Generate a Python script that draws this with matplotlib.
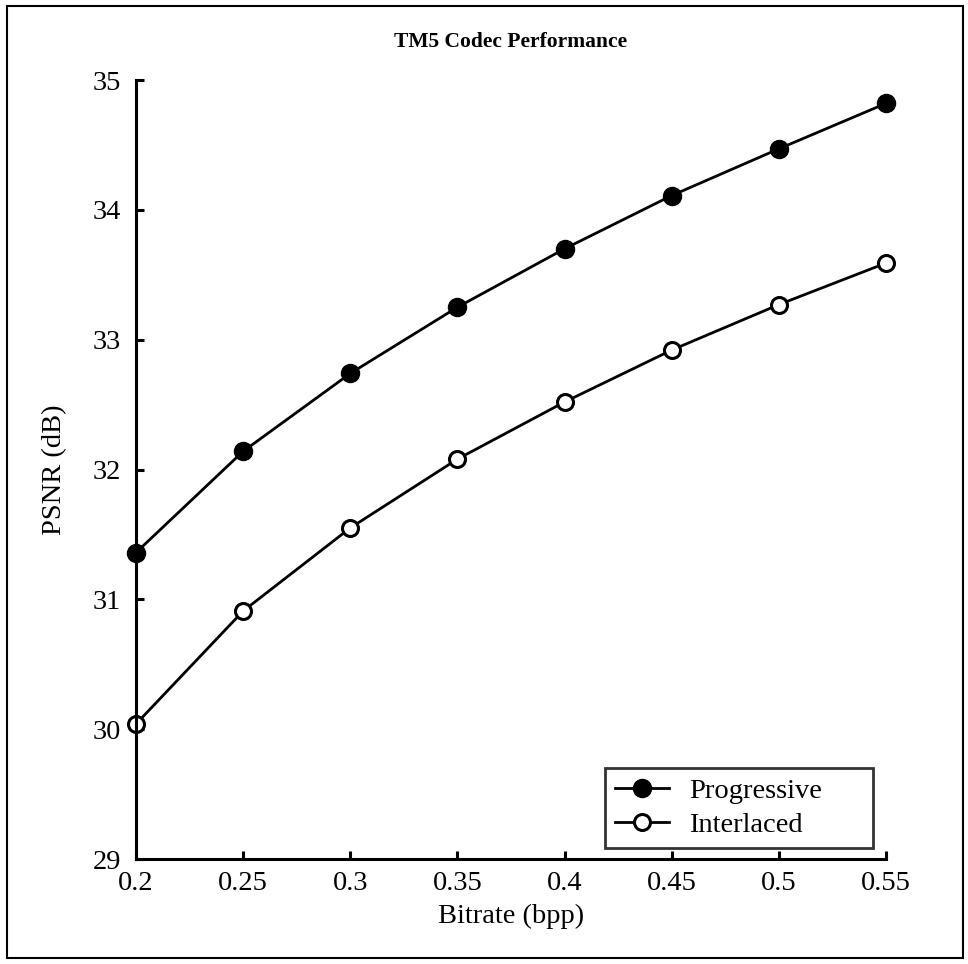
import matplotlib
matplotlib.use('Agg')
import matplotlib.pyplot as plt
from matplotlib.patches import Rectangle

# Bitrate (bpp) vs PSNR (dB)
bitrate = [0.2, 0.25, 0.3, 0.35, 0.4, 0.45, 0.5, 0.55]
progressive = [31.36, 32.14, 32.74, 33.25, 33.70, 34.11, 34.47, 34.82]
interlaced = [30.04, 30.91, 31.55, 32.08, 32.52, 32.92, 33.27, 33.59]

xtick_labels = ['0.2', '0.25', '0.3', '0.35', '0.4', '0.45', '0.5', '0.55']
yticks = [29, 30, 31, 32, 33, 34, 35]

plt.rcParams['font.family'] = ['Liberation Serif', 'DejaVu Serif']

fig = plt.figure(figsize=(9.68, 9.64), dpi=100)
ax = fig.add_axes([136 / 968, 1 - 859 / 964, 750 / 968, 779 / 964])

ax.plot(bitrate, progressive, color='black', lw=2, marker='o', ms=12.5,
        mfc='black', mec='black', mew=1.5, clip_on=False, label='Progressive')
ax.plot(bitrate, interlaced, color='black', lw=2, marker='o', ms=11.5,
        mfc='white', mec='black', mew=2.2, clip_on=False, label='Interlaced')

ax.set_xlim(0.2, 0.55)
ax.set_ylim(29, 35)
ax.set_xticks(bitrate)
ax.set_xticklabels(xtick_labels)
ax.set_yticks(yticks)

for side in ['top', 'right']:
    ax.spines[side].set_visible(False)
for side in ['left', 'bottom']:
    ax.spines[side].set_linewidth(2.2)

ax.tick_params(direction='in', length=6, width=2.2, labelsize=20.5)
ax.tick_params(axis='y', pad=11)
ax.tick_params(axis='x', pad=9)

ax.set_xlabel('Bitrate (bpp)', fontsize=20.5, labelpad=5)
ax.set_ylabel('PSNR (dB)', fontsize=20.5, labelpad=18)
ax.set_title('TM5 Codec Performance', fontsize=15.5, fontweight='bold', pad=24)

# Legend box spans a fixed region in the lower right
leg = ax.legend(loc='lower left',
                bbox_to_anchor=(605 / 968, 1 - 848 / 964, 268 / 968, 83 / 964),
                bbox_transform=fig.transFigure, mode='expand',
                fontsize=20.5, frameon=True, fancybox=False,
                edgecolor='black', handlelength=1.9, borderpad=0.35,
                labelspacing=0.28, handletextpad=0.7, borderaxespad=0)
leg.get_frame().set_linewidth(2)

# Frame around the whole figure
fig.patches.append(Rectangle((7 / 968, 6 / 964), 956 / 968, 952 / 964,
                             transform=fig.transFigure, fill=False,
                             edgecolor='black', lw=1.5))

fig.savefig('out.png', dpi=100)
